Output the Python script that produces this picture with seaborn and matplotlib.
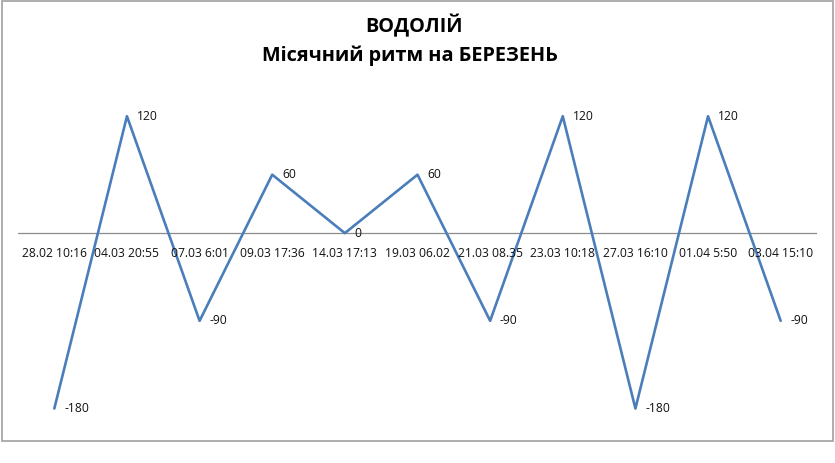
import matplotlib
matplotlib.use("Agg")
import matplotlib.pyplot as plt
import seaborn as sns
import pandas as pd
from matplotlib.patches import Rectangle

# Data
dates = ["28.02 10:16", "04.03 20:55", "07.03 6:01", "09.03 17:36", "14.03 17:13",
         "19.03 06.02", "21.03 08.35", "23.03 10:18", "27.03 16:10", "01.04 5:50",
         "03.04 15:10"]
values = [-180, 120, -90, 60, 0, 60, -90, 120, -180, 120, -90]

title_line1 = "ВОДОЛІЙ"
title_line2 = "Місячний ритм на БЕРЕЗЕНЬ"

sns.set_style("white")
plt.rcParams["font.family"] = ["Open Sans", "DejaVu Sans"]

df = pd.DataFrame({"pos": range(len(dates)), "date": dates, "value": values})

W, H = 835, 463
fig = plt.figure(figsize=(W / 100, H / 100), dpi=100)
ax = fig.add_axes([18 / W, (H - 428) / H, 799 / W, 341 / H])

sns.lineplot(data=df, x="pos", y="value", ax=ax, color="#4A7EBB", linewidth=1.9)

ax.set_xlim(-0.5, len(dates) - 0.5)
ax.set_ylim(-200, 150)
ax.axhline(0, color="#8c8c8c", linewidth=0.9, zorder=0)
sns.despine(ax=ax, left=True, bottom=True, top=True, right=True)
ax.set_xticks([])
ax.set_yticks([])
ax.set_xlabel("")
ax.set_ylabel("")

# category labels sit under the zero line
for i, d in enumerate(dates):
    ax.annotate(d, xy=(i, 0), xytext=(0, -15), textcoords="offset points",
                ha="center", va="center", fontsize=8.7, color="#111111")

# data labels to the right of each point
for i, v in enumerate(values):
    ax.annotate(str(v), xy=(i, v), xytext=(7, 0), textcoords="offset points",
                ha="left", va="center", fontsize=8.7, color="#111111")

fig.text(414 / W, 1 - 26 / H, title_line1, ha="center", va="center",
         fontsize=14.3, fontweight="bold", color="black")
fig.text(410 / W, 1 - 56 / H, title_line2, ha="center", va="center",
         fontsize=14.3, fontweight="bold", color="black")

# chart border
fig.patches.append(Rectangle((2 / W, 1 - 441 / H), 831 / W, 440 / H,
                             transform=fig.transFigure, fill=False,
                             edgecolor="#a0a0a0", linewidth=1.2))

fig.savefig("out.png", dpi=100)
